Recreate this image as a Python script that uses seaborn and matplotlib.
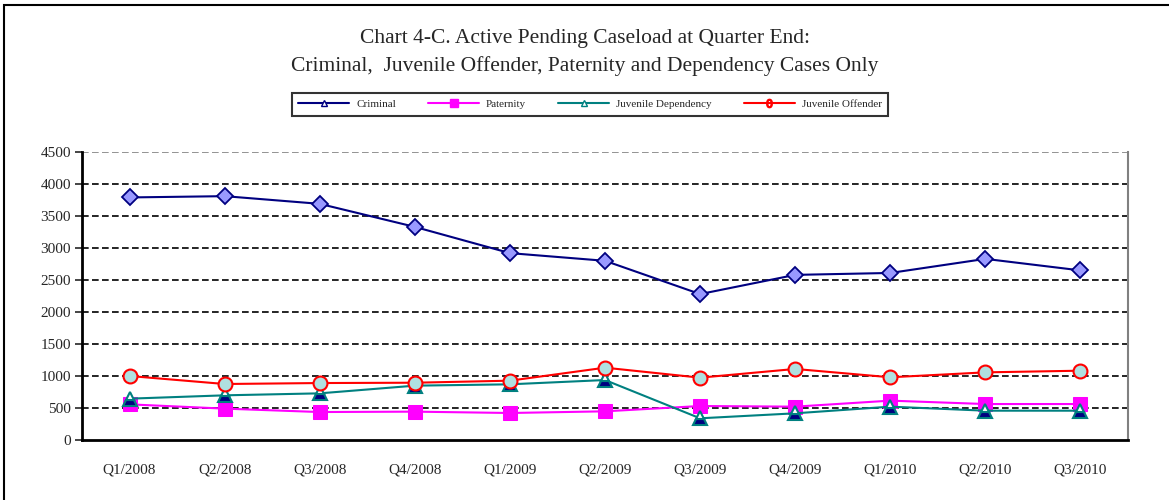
import pandas as pd
import matplotlib.pyplot as plt
import seaborn as sns
from matplotlib.lines import Line2D
from matplotlib.patches import Rectangle

# Data
quarters = ["Q1/2008", "Q2/2008", "Q3/2008", "Q4/2008", "Q1/2009", "Q2/2009",
            "Q3/2009", "Q4/2009", "Q1/2010", "Q2/2010", "Q3/2010"]
criminal = [3790, 3810, 3690, 3330, 2920, 2800, 2280, 2580, 2610, 2830, 2650]
paternity = [557, 490, 437, 443, 422, 448, 531, 521, 615, 562, 562]
juv_dependency = [646, 698, 729, 849, 870, 937, 339, 417, 521, 458, 458]
juv_offender = [1000, 875, 890, 895, 927, 1130, 974, 1110, 980, 1057, 1083]

sns.set_style("white")
plt.rcParams["font.family"] = ["Liberation Serif", "DejaVu Serif"]

fig = plt.figure(figsize=(11.69, 5.0), dpi=100)
ax = fig.add_axes([82 / 1169, 60 / 500, 1046 / 1169, 288 / 500])

x = list(range(len(quarters)))

sns.lineplot(x=x, y=criminal, ax=ax, color="#000080", lw=1.5, marker="D",
             markersize=8, markerfacecolor="#9999ff", markeredgecolor="#000080",
             markeredgewidth=1.3, sort=False, zorder=4)
sns.lineplot(x=x, y=paternity, ax=ax, color="#ff00ff", lw=1.5, marker="s",
             markersize=10, markerfacecolor="#ff00ff", markeredgecolor="#ff00ff",
             sort=False, zorder=3)
sns.lineplot(x=x, y=juv_dependency, ax=ax, color="#008080", lw=1.5, marker="^",
             markersize=10, markerfacecolor="#000080", markerfacecoloralt="white",
             fillstyle="bottom", markeredgecolor="#008080", markeredgewidth=1.5,
             sort=False, zorder=4)
sns.lineplot(x=x, y=juv_offender, ax=ax, color="#ff0000", lw=1.5, marker="o",
             markersize=10, markerfacecolor="#b0e0e0", markeredgecolor="#ff0000",
             markeredgewidth=1.5, sort=False, zorder=4)

ax.set_xlim(-0.5, len(quarters) - 0.5)
ax.set_ylim(0, 4500)
ax.set_yticks(range(0, 4501, 500))
ax.set_xticks(x)
ax.set_xticklabels(quarters)
ax.tick_params(axis="x", length=0, pad=17, labelsize=11)
ax.tick_params(axis="y", length=5, width=1.2, direction="out", left=True,
               labelsize=11, pad=3)

for yv in range(500, 4500, 500):
    ax.axhline(yv, color="black", lw=1.2, ls=(0, (4, 2)), zorder=1)
ax.axhline(4500, color="gray", lw=1.2, ls=(0, (4, 2)), zorder=1)

ax.spines["left"].set_color("black")
ax.spines["left"].set_linewidth(2)
ax.spines["bottom"].set_color("black")
ax.spines["bottom"].set_linewidth(2)
ax.spines["top"].set_visible(False)
ax.spines["right"].set_color("gray")
ax.spines["right"].set_linewidth(1.5)

# Title
fig.text(0.5, 1 - 39 / 500, "Chart 4-C. Active Pending Caseload at Quarter End:",
         ha="center", va="center", fontsize=15.5)
fig.text(0.5, 1 - 66 / 500,
         "Criminal,  Juvenile Offender, Paternity and Dependency Cases Only",
         ha="center", va="center", fontsize=15.5)

# Legend
handles = [
    Line2D([], [], color="#000080", lw=1.5, marker="^", markersize=4,
           markerfacecolor="white", markeredgecolor="#000080"),
    Line2D([], [], color="#ff00ff", lw=1.5, marker="s", markersize=6,
           markerfacecolor="#ff00ff", markeredgecolor="#ff00ff"),
    Line2D([], [], color="#008080", lw=1.5, marker="^", markersize=4,
           markerfacecolor="white", markeredgecolor="#008080"),
    Line2D([], [], color="#ff0000", lw=1.5, marker="$0$", markersize=6,
           markerfacecolor="#ff0000", markeredgecolor="#ff0000"),
]
labels = ["Criminal", "Paternity", "Juvenile Dependency", "Juvenile Offender"]
leg = fig.legend(handles, labels, loc="center",
                 bbox_to_anchor=(590 / 1169, 1 - 104.5 / 500), ncol=4,
                 fontsize=8, frameon=True, fancybox=False, handlelength=4.6,
                 columnspacing=2.9, borderpad=0.6, handletextpad=0.6)
leg.get_frame().set_edgecolor("black")
leg.get_frame().set_linewidth(1.5)

# Outer chart border
fig.patches.append(Rectangle((4 / 1169, -0.1), 1.2, 1 - 5 / 500 + 0.1,
                             transform=fig.transFigure, fill=False,
                             edgecolor="black", lw=1.5))

fig.savefig("out.png", dpi=100)
